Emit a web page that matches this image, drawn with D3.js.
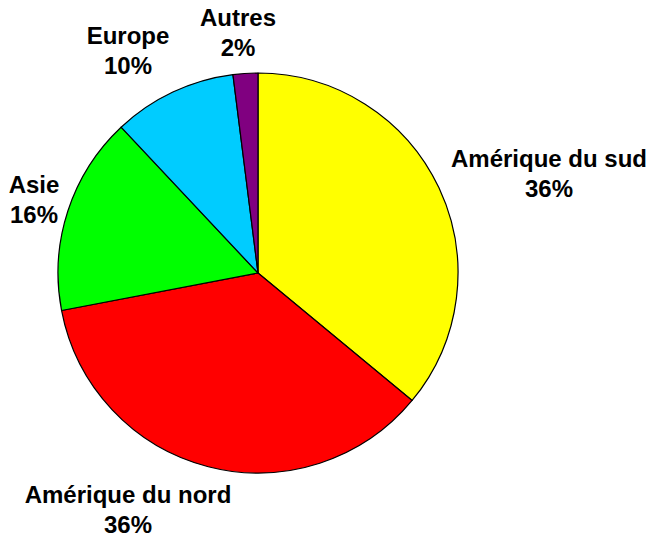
<!DOCTYPE html>
<html>
<head>
<meta charset="utf-8">
<style>
  body { margin: 0; background: #fff; }
  text { font-family: "Liberation Sans", Arial, sans-serif; font-weight: bold; font-size: 24px; fill: #000; }
</style>
<script src="https://d3js.org/d3.v7.min.js"></script>
</head>
<body>
<script>
var categories = ["Amérique du sud", "Amérique du nord", "Asie", "Europe", "Autres"];
var values = [36, 36, 16, 10, 2];
var colors = ["#FFFF00", "#FF0000", "#00FF00", "#00CCFF", "#800080"];
// label anchor (centre x, first-line baseline)
var labelX = [549, 128, 34, 128, 238];
var labelY = [167, 503, 193, 44, 26];

var w = 650,
    h = 538,
    cx = 258,
    cy = 273,
    r = 200;

var svg = d3.select("body")
        .append("svg")
        .attr("width", w)
        .attr("height", h);

var data = categories.map(function(c, i) {
  return { name: c, value: values[i], color: colors[i], lx: labelX[i], ly: labelY[i] };
});

var pie = d3.pie()
        .sort(null)
        .value(function(d) { return d.value; });

var arc = d3.arc()
        .innerRadius(0)
        .outerRadius(r);

var g = svg.append("g")
        .attr("transform", "translate(" + cx + "," + cy + ")");

g.selectAll("path")
  .data(pie(data))
  .enter()
  .append("path")
  .attr("d", arc)
  .attr("fill", function(d) { return d.data.color; })
  .attr("stroke", "#000")
  .attr("stroke-width", 1.2)
  .attr("stroke-linejoin", "round");

var totals = d3.sum(values);

var labels = svg.selectAll("text.lab")
  .data(data)
  .enter()
  .append("text")
  .attr("class", "lab")
  .attr("text-anchor", "middle");

labels.append("tspan")
  .attr("x", function(d) { return d.lx; })
  .attr("y", function(d) { return d.ly; })
  .text(function(d) { return d.name; });

labels.append("tspan")
  .attr("x", function(d) { return d.lx; })
  .attr("y", function(d) { return d.ly + 30; })
  .text(function(d) { return Math.round(d.value / totals * 100) + "%"; });
</script>
</body>
</html>
